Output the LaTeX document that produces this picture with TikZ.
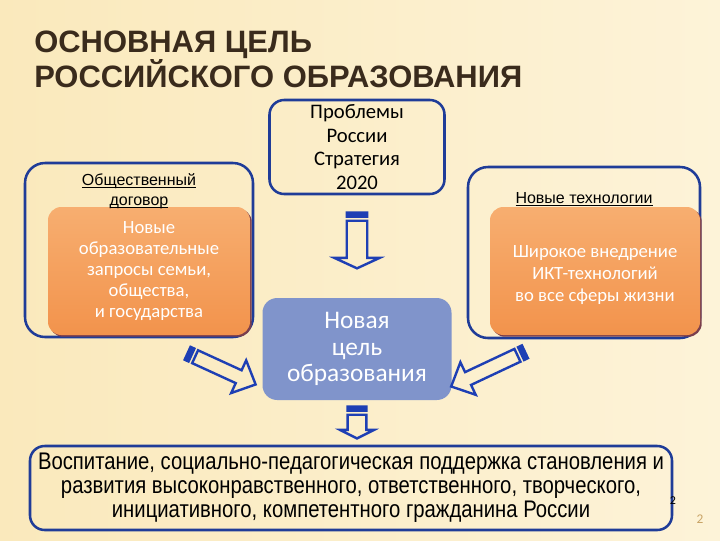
\documentclass[tikz,border=0pt]{standalone}
\usepackage{fontspec}
\setmainfont{Carlito}
\newfontfamily\headfont{Liberation Sans}
\newfontfamily\narrowfont{Liberation Sans}[FakeStretch=0.845]
\usetikzlibrary{calc,positioning,shadows}
\definecolor{bgcream}{HTML}{FAE9BC}
\definecolor{bglight}{HTML}{FDF3D8}
\definecolor{titlebrown}{HTML}{3A2B1C}
\definecolor{boxblue}{HTML}{1F3C98}
\definecolor{arrowblue}{HTML}{1E3FB4}
\definecolor{orangetop}{HTML}{F7AE70}
\definecolor{orangebot}{HTML}{F2934C}
\definecolor{orangeshade}{HTML}{7A3E4C}
\definecolor{goalfill}{HTML}{8094CB}
\definecolor{pagetan}{HTML}{C9A467}
\newcommand{\ulabel}[1]{\setbox0=\hbox{#1}\rlap{\rule[-1.8pt]{\wd0}{0.6pt}}\box0}
\tikzstyle{bluebox} = [rectangle, rounded corners=14pt, draw=boxblue, %
                       line width=1.9pt, align=center, inner sep=0pt]
\tikzstyle{orangebox} = [rectangle, rounded corners=10pt, top color=orangetop, %
                         bottom color=orangebot, text=white, align=center, %
                         drop shadow={shadow xshift=1.3pt, shadow yshift=-1.3pt, %
                                      fill=orangeshade, opacity=1}]
\tikzstyle{goalbox} = [rectangle, rounded corners=11pt, fill=goalfill, %
                       text=white, align=center]
\tikzstyle{labeltext} = [inner sep=0pt, align=center, %
                         font=\headfont\fontsize{12}{14.5}\selectfont]
% striped block arrow: #1 shaft half width, #2 head half width, #3 head length
\tikzset{
  stripearrow/.style n args={3}{draw=arrowblue, line width=1.8pt, to path={
    let \p1=(\tikztostart), \p2=(\tikztotarget) in
    ($(\p1)!0.9pt!(\p2)!{#1+0.9pt}!90:(\p2)$) -- ($(\p1)!0.9pt!(\p2)!{#1+0.9pt}!-90:(\p2)$)
    ($(\p1)!2.5pt!(\p2)!{#1+0.9pt}!90:(\p2)$) -- ($(\p1)!2.5pt!(\p2)!{#1+0.9pt}!-90:(\p2)$)
    ($(\p1)!4.1pt!(\p2)!{#1+0.9pt}!90:(\p2)$) -- ($(\p1)!4.1pt!(\p2)!{#1+0.9pt}!-90:(\p2)$)
    ($(\p1)!7.1pt!(\p2)!#1!90:(\p2)$) -- ($(\p2)!#3!(\p1)!#1!-90:(\p1)$)
      -- ($(\p2)!#3!(\p1)!#2!-90:(\p1)$) -- (\p2)
      -- ($(\p2)!#3!(\p1)!#2!90:(\p1)$) -- ($(\p2)!#3!(\p1)!#1!90:(\p1)$)
      -- ($(\p1)!7.1pt!(\p2)!#1!-90:(\p2)$) -- cycle}}
}

\begin{document}
\begin{tikzpicture}[x=0.75pt, y=-0.75pt]
  % Background
  \fill[left color=bgcream, right color=bglight] (0,0) rectangle (720,540);
  \useasboundingbox (0,0) rectangle (720,540);
  % Title
  \node (title) [anchor=north west, inner sep=0pt, align=left, text=titlebrown, %
    font=\headfont\bfseries\fontsize{23.2}{26.25}\selectfont] at (34,31) %
    {ОСНОВНАЯ ЦЕЛЬ\\РОССИЙСКОГО ОБРАЗОВАНИЯ};
  % Boxes
  \node (prob) [bluebox, minimum width=131.25pt, minimum height=70.5pt, %
    rounded corners=11pt, font=\fontsize{15.5}{17.6}\selectfont] at (357,147) %
    {Проблемы\\России\\Стратегия\\2020};
  \node (social) [bluebox, minimum width=171pt, minimum height=130.5pt, %
    rounded corners=15pt] at (139,250) {};
  \node (tech) [bluebox, minimum width=174pt, minimum height=128.25pt, %
    rounded corners=15pt] at (584,252.5) {};
  \node (reqs) [orangebox, minimum width=151.5pt, minimum height=96pt, %
    font=\fontsize{14}{15.75}\selectfont] at (149,271) %
    {Новые\\образовательные\\запросы семьи,\\общества,\\и государства};
  \node (ict) [orangebox, minimum width=157.5pt, minimum height=96pt, %
    font=\fontsize{14}{16.5}\selectfont] at (595,271) %
    {\rule{0pt}{15pt}Широкое внедрение\\ИКТ-технологий\\во все сферы жизни};
  \node (sociallabel) [labeltext, below=9pt of social.north] %
    {\ulabel{Общественный}\\\ulabel{договор}};
  \node (techlabel) [labeltext, below=19.5pt of tech.north] {\ulabel{Новые технологии}};
  \node (goal) [goalbox, minimum width=141.75pt, minimum height=76.5pt, %
    font=\fontsize{19}{20}\selectfont] at (357,349) %
    {Новая\\цель\\образования};
  \node (result) [bluebox, minimum width=481.5pt, minimum height=63pt, %
    rounded corners=11pt, font=\narrowfont\fontsize{18}{18}\selectfont] at (351,488) %
    {Воспитание, социально-педагогическая поддержка становления и\\
     развития высоконравственного, ответственного, творческого,\\
     инициативного, компетентного гражданина России};
  % Arrow ends
  \coordinate (probtail) at ($(prob.south)+(0,16)$);
  \coordinate (probtip)  at ($(probtail |- goal.north)+(0,-29.4)$);
  \coordinate (goaltail) at ($(goal.south)+(0,5)$);
  \coordinate (goaltip)  at ($(goaltail |- result.north)+(0,-6.3)$);
  \coordinate (reqstail) at ($(reqs.south)+(37.5,17.5)$);
  \coordinate (reqstip)  at ($(goal.south west)+(-6.6,-15.8)$);
  \coordinate (icttail)  at ($(ict.south)+(-69,16)$);
  \coordinate (icttip)   at ($(goal.south east)+(-0.6,-13.8)$);
  % Arrows
  \draw [stripearrow={7.7pt}{16.9pt}{7.8pt}]  (probtail) to (probtip);
  \draw [stripearrow={7pt}{12.75pt}{6.4pt}]   (goaltail) to (goaltip);
  \draw [stripearrow={5.3pt}{13.5pt}{14pt}]   (reqstail) to (reqstip);
  \draw [stripearrow={5.3pt}{13.5pt}{14pt}]   (icttail)  to (icttip);
  % Page numbers
  \node (pagemark) [inner sep=0pt, font=\fontsize{9}{9}\selectfont] at (673,501) {2};
  \node (pagenum) [inner sep=0pt, text=pagetan, font=\fontsize{10}{10}\selectfont] %
    at (700,519) {2};
\end{tikzpicture}
\end{document}
